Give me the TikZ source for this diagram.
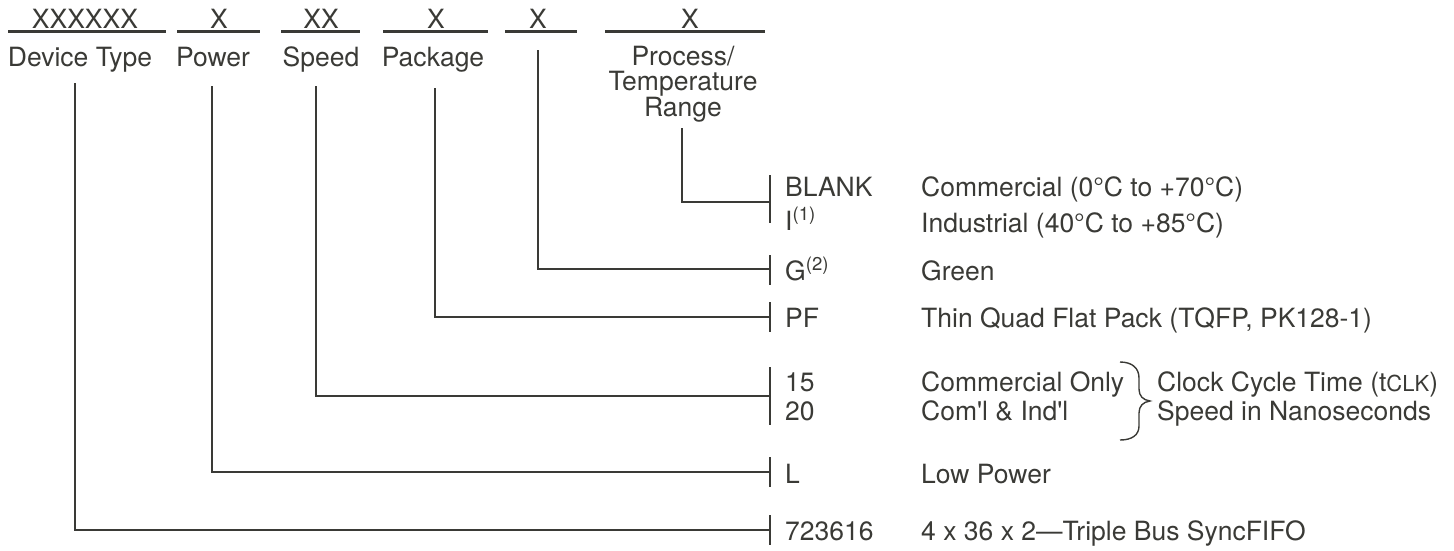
\documentclass[tikz,border=0pt]{standalone}
\usepackage{fontspec}
\setmainfont{TeX Gyre Heros}
\definecolor{ink}{HTML}{3A3A36}
\begin{document}
\begin{tikzpicture}[x=1pt,y=-1pt,
  font=\fontsize{26.5}{25}\selectfont,
  every node/.style={inner sep=0pt,text=ink},
  txt/.style={anchor=base west},
  ctr/.style={anchor=base},
  conn/.style={draw=ink,line width=2.6pt},
  uline/.style={draw=ink,line width=2.6pt},
  tickmark/.style={draw=ink,line width=2.6pt},
  brace/.style={draw=ink,line width=1.4pt}]
\useasboundingbox (0,0) rectangle (1454,550);

% top code fields
\node[ctr] (xdev) at (85,28) {XXXXXX};
\node[ctr] (xpow) at (219,28) {X};
\node[ctr] (xspd) at (321,28) {XX};
\node[ctr] (xpkg) at (436,28) {X};
\node[ctr] (xgrn) at (538,28) {X};
\node[ctr] (xprc) at (690,28) {X};
\draw[uline] (8,31.5) -- (166,31.5);
\draw[uline] (177,31.5) -- (260,31.5);
\draw[uline] (281,31.5) -- (360,31.5);
\draw[uline] (383,31.5) -- (488,31.5);
\draw[uline] (505,31.5) -- (577,31.5);
\draw[uline] (605,31.5) -- (765,31.5);

% field labels
\node[ctr] (ldev) at (80,66) {Device Type};
\node[ctr] (lpow) at (213,66) {Power};
\node[ctr] (lspd) at (321,66) {Speed};
\node[ctr] (lpkg) at (433,66) {Package};
\node[anchor=north,align=center,font=\fontsize{26.5}{25}\selectfont] (lprc) at (683,46) {Process/\\Temperature\\Range};

% connector start points
\coordinate (sdev) at (75,83);
\coordinate (spow) at (212,86);
\coordinate (sspd) at (316,86);
\coordinate (spkg) at (435,88);
\coordinate (sgrn) at (538,50);
\coordinate (sprc) at (682,128);

% tick points
\coordinate (tprc) at (770,202);
\coordinate (tgrn) at (770,269);
\coordinate (tpkg) at (770,317);
\coordinate (tspd) at (770,396);
\coordinate (tpow) at (770,472);
\coordinate (tdev) at (770,530);

\draw[conn] (sprc) |- (tprc);
\draw[conn] (sgrn) |- (tgrn);
\draw[conn] (spkg) |- (tpkg);
\draw[conn] (sspd) |- (tspd);
\draw[conn] (spow) |- (tpow);
\draw[conn] (sdev) |- (tdev);

\draw[tickmark] (770,175) -- (770,223);
\draw[tickmark] (770,255) -- (770,285);
\draw[tickmark] (770,302) -- (770,332);
\draw[tickmark] (770,367) -- (770,425);
\draw[tickmark] (770,457) -- (770,487);
\draw[tickmark] (770,515) -- (770,545);

% codes
\node[txt] (cblank) at (785,196) {BLANK};
\node[txt] (ci) at (785,230) {I\textsuperscript{(1)}};
\node[txt] (cg) at (785,280) {G\textsuperscript{(2)}};
\node[txt] (cpf) at (785,327) {PF};
\node[txt] (c15) at (785,391) {15};
\node[txt] (c20) at (785,420) {20};
\node[txt] (cl) at (785,483) {L};
\node[txt] (cdev) at (785,540) {723616};

% descriptions
\node[txt] (dcom) at (921,196) {Commercial (0°C to +70°C)};
\node[txt] (dind) at (921,232) {Industrial (40°C to +85°C)};
\node[txt] (dgrn) at (921,280) {Green};
\node[txt] (dpf) at (921,327) {Thin Quad Flat Pack (TQFP, PK128-1)};
\node[txt] (d15) at (921,391) {Commercial Only};
\node[txt] (d20) at (921,420) {Com\textquotesingle l \& Ind\textquotesingle l};
\node[txt] (dclk) at (1157,391) {Clock Cycle Time (t{\fontsize{22}{22}\selectfont CLK})};
\node[txt] (dns) at (1157,420) {Speed in Nanoseconds};
\node[txt] (dl) at (921,483) {Low Power};
\node[txt] (ddev) at (921,540) {4 x 36 x 2—Triple Bus SyncFIFO};

% brace
\draw[brace] (1120,362) .. controls (1132,362) and (1139,368) .. (1139,378)
  -- (1139,389) .. controls (1139,396) and (1143,400) .. (1150,401)
  .. controls (1143,402) and (1139,406) .. (1139,413)
  -- (1139,426) .. controls (1139,435) and (1132,440) .. (1120,440);
\end{tikzpicture}
\end{document}
